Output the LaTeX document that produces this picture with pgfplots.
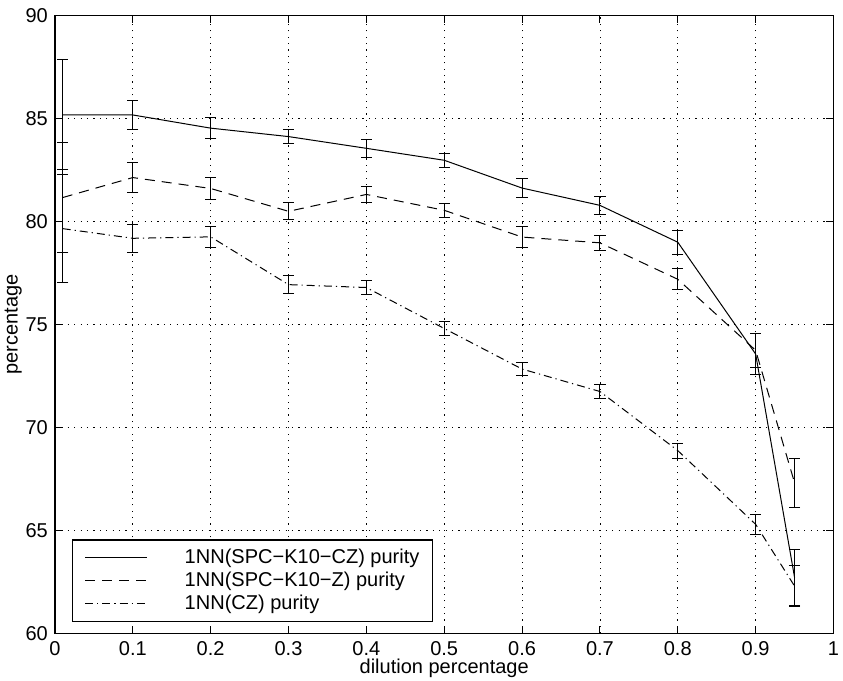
\documentclass[border=0pt]{standalone}
\usepackage{pgfplots}
\pgfplotsset{compat=1.18}
\usepackage{fontspec}
\setmainfont{Liberation Sans}
\begin{document}
\fontsize{10}{12}\selectfont
\begin{tikzpicture}
\begin{axis}[
  scale only axis,
  width=389pt, height=308.65pt,
  xmin=0, xmax=1, ymin=60, ymax=90,
  xtick={0,0.1,0.2,0.3,0.4,0.5,0.6,0.7,0.8,0.9,1},
  xticklabels={0,0.1,0.2,0.3,0.4,0.5,0.6,0.7,0.8,0.9,1},
  ytick={60,65,70,75,80,85,90},
  /pgf/number format/assume math mode=true,
  tick align=inside,
  major tick length=3.5pt,
  tick style={black, line width=0.5pt},
  axis line style={line width=0.6pt},
  grid=major,
  major grid style={black, line width=0.4pt, dash pattern=on 0.6pt off 2.6pt},
  xlabel={dilution percentage},
  ylabel={percentage},
  xlabel style={at={(rel axis cs:0.5,0)}, anchor=center, yshift=-17.6pt, inner sep=0pt},
  ylabel style={yshift=-5pt},
  xticklabel style={anchor=center, yshift=-7.8pt, inner sep=0pt},
  legend style={at={(rel axis cs:0.022,0.018)}, anchor=south west,
    draw=black, line width=0.6pt, inner xsep=6pt, inner ysep=4pt,
    row sep=1.8pt, column sep=18pt,
    nodes={inner sep=0.5pt, anchor=west}},
  legend cell align=left,
  legend image code/.code={\draw[#1] (0pt,0pt) -- (31pt,0pt);},
]
\addplot[black, line width=0.5pt,
  error bars/.cd, y dir=both, y explicit,
  error bar style={line width=0.5pt, solid},
  error mark options={rotate=90, mark size=2.8pt, line width=0.5pt, solid}]
  table[x=x, y=y, y error=e] {
x y e
0.01 85.18 2.67
0.1 85.18 0.70
0.2 84.54 0.51
0.3 84.13 0.33
0.4 83.56 0.44
0.5 82.98 0.34
0.6 81.63 0.45
0.7 80.79 0.42
0.8 79.00 0.58
0.9 73.57 1.01
0.95 62.72 1.37
};
\addlegendentry{1NN(SPC−K10−CZ) purity}
\addplot[black, line width=0.5pt, dash pattern=on 5pt off 3.5pt,
  error bars/.cd, y dir=both, y explicit,
  error bar style={line width=0.5pt, solid},
  error mark options={rotate=90, mark size=2.8pt, line width=0.5pt, solid}]
  table[x=x, y=y, y error=e] {
x y e
0.01 81.17 2.66
0.1 82.14 0.72
0.2 81.61 0.53
0.3 80.50 0.42
0.4 81.32 0.40
0.5 80.55 0.34
0.6 79.25 0.50
0.7 78.97 0.37
0.8 77.20 0.50
0.9 73.75 0.83
0.95 67.32 1.19
};
\addlegendentry{1NN(SPC−K10−Z) purity}
\addplot[black, line width=0.5pt, dash pattern=on 4pt off 2pt on 0.6pt off 2pt,
  error bars/.cd, y dir=both, y explicit,
  error bar style={line width=0.5pt, solid},
  error mark options={rotate=90, mark size=2.8pt, line width=0.5pt, solid}]
  table[x=x, y=y, y error=e] {
x y e
0.01 79.66 2.62
0.1 79.19 0.68
0.2 79.26 0.50
0.3 76.94 0.45
0.4 76.80 0.34
0.5 74.81 0.35
0.6 72.84 0.33
0.7 71.75 0.34
0.8 68.88 0.36
0.9 65.30 0.49
0.95 62.30 0.99
};
\addlegendentry{1NN(CZ) purity}
\end{axis}
\pgfresetboundingbox
\path (current axis.south west) ++(-27.45pt,-23.5pt) coordinate (bl);
\path (current axis.north east) ++(4.75pt,7.85pt) coordinate (tr);
\path[use as bounding box] (bl) rectangle (tr);
\end{tikzpicture}
\end{document}
